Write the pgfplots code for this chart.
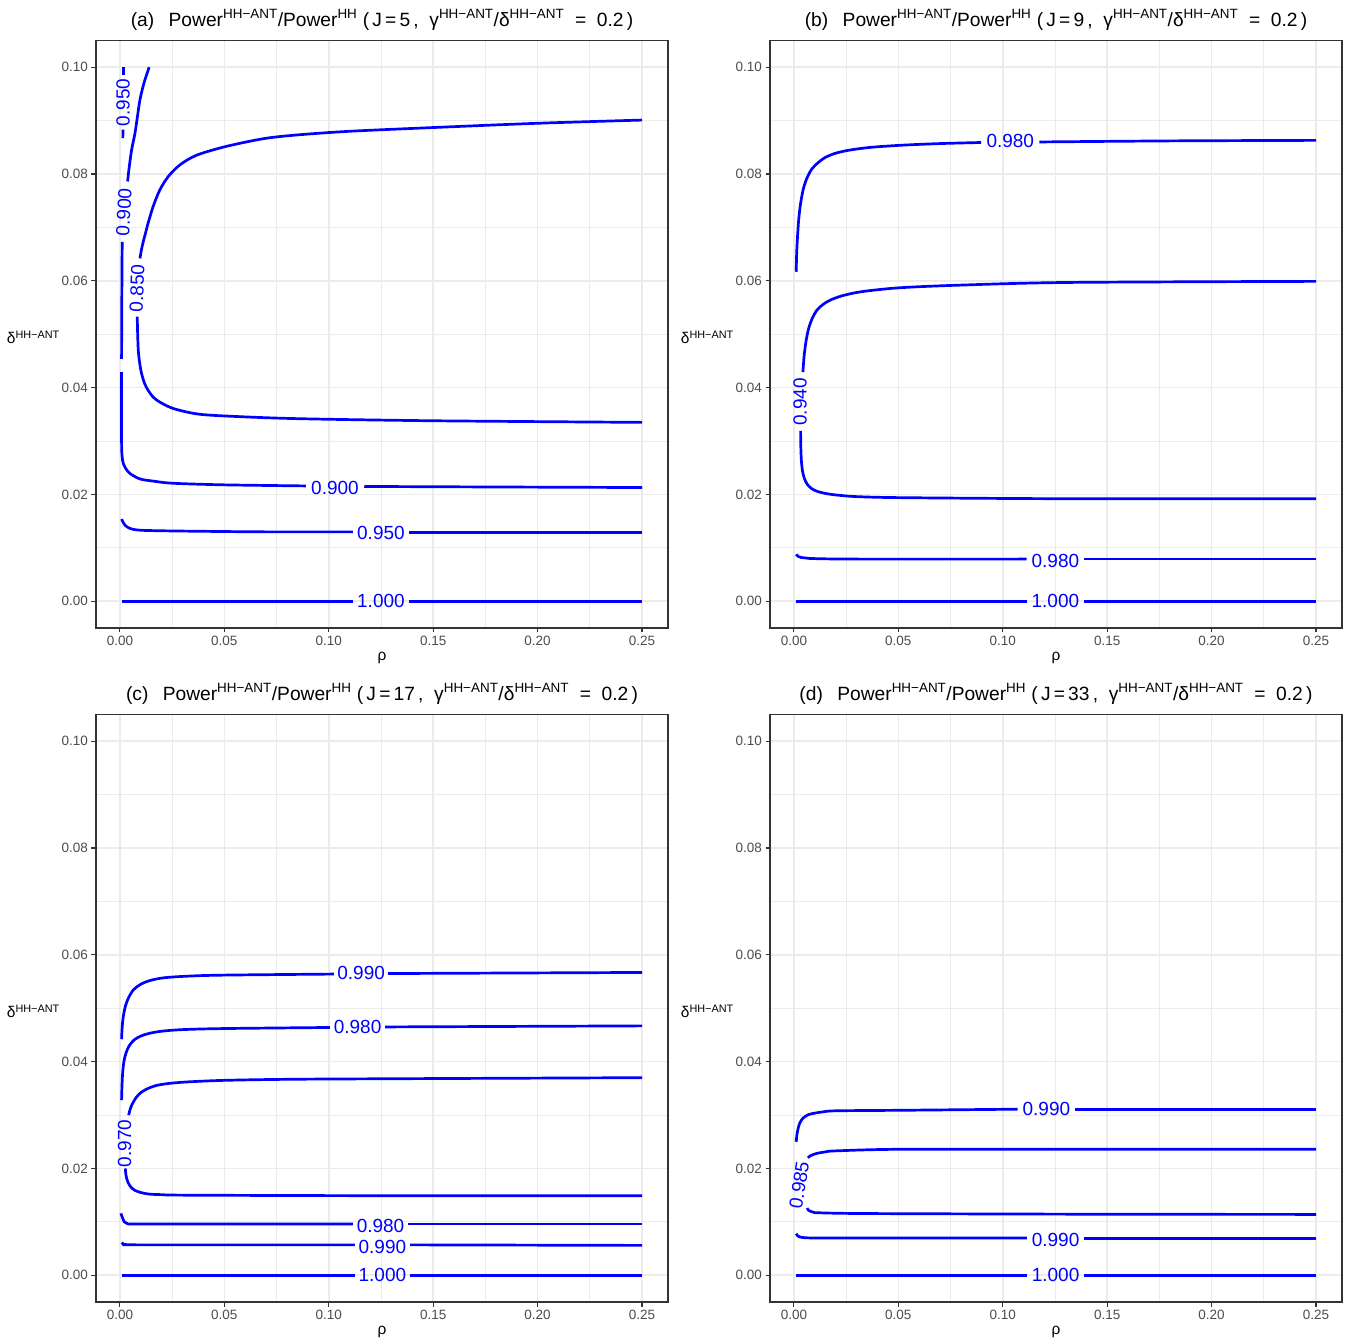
\documentclass[border=0pt]{standalone}
\usepackage{fontspec}
\setmainfont{Liberation Sans}
\usepackage{pgfplots}
\pgfplotsset{compat=1.18}

\definecolor{gridc}{HTML}{EBEBEB}
\definecolor{tickc}{HTML}{4D4D4D}
\definecolor{framec}{HTML}{333333}

\newcommand{\sups}[1]{\textsuperscript{#1}}
\newcommand{\ptitle}[2]{(#1)\hspace{0.75em}Power\sups{HH−ANT}/Power\sups{HH}\ (\,J\,=\,#2\,,\ \ γ\sups{HH−ANT}/δ\sups{HH−ANT}\ \ =\ \ 0.2\,)}

\pgfplotsset{
  panel/.style={
    scale only axis, width=572pt, height=587.5pt,
    xmin=-0.01145, xmax=0.26245, ymin=-0.005, ymax=0.105,
    xtick={0,0.05,0.1,0.15,0.2,0.25},
    xticklabels={0.00,0.05,0.10,0.15,0.20,0.25},
    ytick={0,0.02,0.04,0.06,0.08,0.1},
    yticklabels={0.00,0.02,0.04,0.06,0.08,0.10},
    minor xtick={0.025,0.075,0.125,0.175,0.225},
    minor ytick={0.01,0.03,0.05,0.07,0.09},
    grid=both,
    major grid style={gridc, line width=1.6pt},
    minor grid style={gridc, line width=0.8pt},
    minor tick length=0pt,
    major tick length=4.5pt,
    tick align=outside, tick pos=left,
    tick style={framec, line width=1.1pt},
    axis line style={framec, line width=1.1pt},
    ticklabel style={tickc, font=\fontsize{13.5}{13.5}\selectfont},
    xlabel={ρ},
    every axis x label/.style={at={(axis description cs:0.5,-0.056)}, anchor=base, font=\fontsize{15.5}{15.5}\selectfont},
    ylabel={δ\sups{HH−ANT}},
    every axis y label/.style={at={(axis description cs:-0.063,0.484)}, anchor=base east, inner sep=0pt, font=\fontsize{15.5}{15.5}\selectfont},
    every axis title/.style={at={(axis description cs:0.5,1)}, anchor=base, yshift=14pt, font=\fontsize{19.2}{19.2}\selectfont},
  },
  cl/.style={blue, line width=2.7pt, smooth, tension=0.5, no markers},
}
\tikzset{lab/.style={text=blue, font=\fontsize{19}{19}\selectfont, inner sep=0pt}}

\begin{document}
\begin{tikzpicture}
\fill[white] (0,0) rectangle (1351pt,1340pt);

% (a)
\begin{axis}[panel, at={(96pt,712pt)}, anchor=south west, title={\ptitle{a}{5}}]
\addplot[cl] coordinates {(0.001,0) (0.1116,0)};
\addplot[cl] coordinates {(0.1384,0) (0.25,0)};
\addplot[cl] coordinates {(0.0008,0.0154) (0.0015,0.0148) (0.0025,0.0142) (0.004,0.0138) (0.006,0.0135) (0.01,0.0133) (0.02,0.0132) (0.04,0.0131) (0.07,0.0130) (0.1116,0.0130)};
\addplot[cl] coordinates {(0.1384,0.0129) (0.2,0.0129) (0.25,0.0129)};
\addplot[cl] coordinates {(0.0008,0.0429) (0.0008,0.0350) (0.0008,0.0300) (0.0009,0.0280) (0.0012,0.0266) (0.0018,0.0256) (0.0027,0.0249) (0.0049,0.0239) (0.0097,0.0229) (0.016,0.0225) (0.0253,0.0221) (0.05,0.0218) (0.089,0.0216)};
\addplot[cl] coordinates {(0.117,0.0215) (0.18,0.0214) (0.25,0.0213)};
\addplot[cl] coordinates {(0.0008,0.0454) (0.0009,0.0550) (0.0010,0.0620) (0.0011,0.0673)};
\addplot[cl] coordinates {(0.0037,0.0786) (0.0043,0.0808) (0.0056,0.0845) (0.0072,0.0876) (0.0083,0.0905) (0.0096,0.0939) (0.0115,0.0970) (0.0140,0.1000)};
\addplot[cl] coordinates {(0.0016,0.1000) (0.0016,0.0986)};
\addplot[cl] coordinates {(0.0015,0.0883) (0.0014,0.0867)};
\addplot[cl] coordinates {(0.0083,0.0533) (0.0085,0.0500) (0.0088,0.0470) (0.0095,0.0445) (0.0104,0.0426) (0.0118,0.0408) (0.0135,0.0395) (0.016,0.0382) (0.0191,0.0373) (0.0255,0.0361) (0.0366,0.0351) (0.0502,0.0347) (0.0844,0.0342) (0.15,0.0338) (0.25,0.0335)};
\addplot[cl] coordinates {(0.0096,0.0642) (0.0103,0.0658) (0.0111,0.0672) (0.0123,0.0690) (0.0135,0.0708) (0.0159,0.0739) (0.0191,0.0770) (0.0231,0.0795) (0.0287,0.0817) (0.0366,0.0835) (0.0502,0.0851) (0.0685,0.0866) (0.0844,0.0873) (0.11,0.0880) (0.15,0.0887) (0.20,0.0895) (0.25,0.0901)};
\node[lab] at (axis cs:0.1250,0) {1.000};
\node[lab] at (axis cs:0.1250,0.0127) {0.950};
\node[lab] at (axis cs:0.1030,0.0213) {0.900};
\node[lab, rotate=87] at (axis cs:0.0019,0.0729) {0.900};
\node[lab, rotate=90] at (axis cs:0.0015,0.0934) {0.950};
\node[lab, rotate=88] at (axis cs:0.0082,0.0586) {0.850};
\end{axis}

% (b)
\begin{axis}[panel, at={(770pt,712pt)}, anchor=south west, title={\ptitle{b}{9}}]
\addplot[cl] coordinates {(0.001,0) (0.1114,0)};
\addplot[cl] coordinates {(0.139,0) (0.25,0)};
\addplot[cl] coordinates {(0.0011,0.0088) (0.002,0.0084) (0.0035,0.0082) (0.006,0.0081) (0.0091,0.0080) (0.03,0.0079) (0.1114,0.0079)};
\addplot[cl] coordinates {(0.139,0.0079) (0.25,0.0079)};
\addplot[cl] coordinates {(0.0032,0.0319) (0.0033,0.0290) (0.0036,0.0262) (0.0042,0.0242) (0.0052,0.0228) (0.0066,0.0218) (0.0085,0.0211) (0.0110,0.0206) (0.015,0.0202) (0.0203,0.0199) (0.03,0.0196) (0.0522,0.0194) (0.132,0.0192) (0.25,0.0192)};
\addplot[cl] coordinates {(0.0043,0.0429) (0.0049,0.0460) (0.0058,0.0487) (0.0070,0.0510) (0.0087,0.0529) (0.0110,0.0545) (0.0140,0.0556) (0.018,0.0565) (0.024,0.0573) (0.033,0.0580) (0.0506,0.0587) (0.08,0.0592) (0.132,0.0597) (0.25,0.0599)};
\addplot[cl] coordinates {(0.0011,0.0617) (0.0013,0.0650) (0.0017,0.0681) (0.0023,0.0715) (0.0032,0.0745) (0.0045,0.0772) (0.0062,0.0792) (0.0085,0.0809) (0.0115,0.0821) (0.0150,0.0831) (0.020,0.0839) (0.027,0.0845) (0.037,0.0850) (0.052,0.0854) (0.070,0.0857) (0.0896,0.0859)};
\addplot[cl] coordinates {(0.1175,0.0860) (0.18,0.0862) (0.25,0.0863)};
\node[lab] at (axis cs:0.1252,0) {1.000};
\node[lab] at (axis cs:0.1252,0.0076) {0.980};
\node[lab] at (axis cs:0.1036,0.0861) {0.980};
\node[lab, rotate=90] at (axis cs:0.0029,0.0373) {0.940};
\end{axis}

% (c)
\begin{axis}[panel, at={(96pt,38pt)}, anchor=south west, title={\ptitle{c}{17}}]
\addplot[cl] coordinates {(0.001,0) (0.1125,0)};
\addplot[cl] coordinates {(0.139,0) (0.25,0)};
\addplot[cl] coordinates {(0.0008,0.0061) (0.0015,0.0059) (0.0029,0.00575) (0.01,0.0057) (0.1125,0.0057)};
\addplot[cl] coordinates {(0.139,0.0057) (0.25,0.0056)};
\addplot[cl] coordinates {(0.0005,0.0116) (0.001,0.0110) (0.0021,0.0100) (0.0035,0.0097) (0.0061,0.0096) (0.03,0.0096) (0.1116,0.0096)};
\addplot[cl] coordinates {(0.138,0.0096) (0.25,0.0096)};
\addplot[cl] coordinates {(0.0026,0.0200) (0.0028,0.0190) (0.0032,0.0182) (0.0040,0.0173) (0.0053,0.0165) (0.0072,0.0159) (0.0100,0.0155) (0.014,0.0152) (0.02,0.0151) (0.0333,0.0150) (0.129,0.0149) (0.25,0.0149)};
\addplot[cl] coordinates {(0.0042,0.0300) (0.0050,0.0312) (0.0061,0.0322) (0.0078,0.0333) (0.0100,0.0342) (0.0130,0.0349) (0.017,0.0355) (0.023,0.0359) (0.032,0.0362) (0.050,0.0365) (0.0813,0.0367) (0.129,0.0368) (0.25,0.0370)};
\addplot[cl] coordinates {(0.0008,0.0328) (0.0010,0.0355) (0.0013,0.0378) (0.0019,0.0400) (0.0029,0.0416) (0.0045,0.0430) (0.0069,0.0441) (0.010,0.0448) (0.0141,0.0453) (0.02,0.0457) (0.030,0.0460) (0.050,0.0462) (0.1005,0.0464)};
\addplot[cl] coordinates {(0.127,0.0465) (0.25,0.0467)};
\addplot[cl] coordinates {(0.0008,0.0442) (0.0011,0.0465) (0.0016,0.0484) (0.0027,0.0505) (0.0043,0.0521) (0.0066,0.0535) (0.0100,0.0545) (0.0145,0.0552) (0.0210,0.0557) (0.032,0.0560) (0.0493,0.0562) (0.1025,0.0564)};
\addplot[cl] coordinates {(0.1284,0.0565) (0.25,0.0567)};
\node[lab] at (axis cs:0.1257,0) {1.000};
\node[lab] at (axis cs:0.1257,0.0053) {0.990};
\node[lab] at (axis cs:0.1248,0.0093) {0.980};
\node[lab] at (axis cs:0.1138,0.0465) {0.980};
\node[lab] at (axis cs:0.1155,0.0566) {0.990};
\node[lab, rotate=90] at (axis cs:0.0022,0.0247) {0.970};
\end{axis}

% (d)
\begin{axis}[panel, at={(770pt,38pt)}, anchor=south west, title={\ptitle{d}{33}}]
\addplot[cl] coordinates {(0.001,0) (0.1115,0)};
\addplot[cl] coordinates {(0.139,0) (0.25,0)};
\addplot[cl] coordinates {(0.0011,0.0078) (0.0018,0.0074) (0.0027,0.0072) (0.0075,0.0070) (0.03,0.0070) (0.1115,0.0070)};
\addplot[cl] coordinates {(0.139,0.0069) (0.25,0.0069)};
\addplot[cl] coordinates {(0.0064,0.0126) (0.0069,0.0122) (0.0078,0.0120) (0.0095,0.0118) (0.0123,0.0117) (0.0362,0.01156) (0.1415,0.01144) (0.25,0.0114)};
\addplot[cl] coordinates {(0.0067,0.0220) (0.008,0.0224) (0.0107,0.0228) (0.015,0.0231) (0.0203,0.0233) (0.0522,0.0236) (0.1415,0.0236) (0.25,0.0236)};
\addplot[cl] coordinates {(0.0011,0.0250) (0.0014,0.0262) (0.0019,0.0273) (0.0028,0.0285) (0.0043,0.0294) (0.0065,0.0300) (0.0091,0.0303) (0.0140,0.0306) (0.0203,0.0308) (0.0522,0.0309) (0.1071,0.0311)};
\addplot[cl] coordinates {(0.1348,0.0311) (0.25,0.0311)};
\node[lab] at (axis cs:0.1253,0) {1.000};
\node[lab] at (axis cs:0.1253,0.0066) {0.990};
\node[lab] at (axis cs:0.1209,0.0312) {0.990};
\node[lab, rotate=81] at (axis cs:0.0025,0.0169) {0.985};
\end{axis}
\end{tikzpicture}
\end{document}
